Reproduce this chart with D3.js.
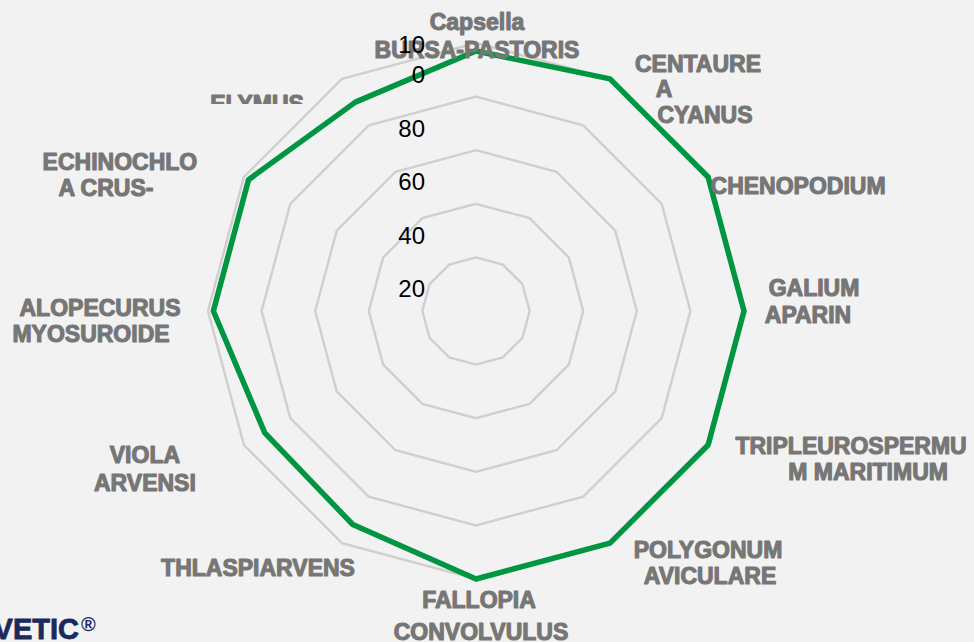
<!DOCTYPE html>
<html>
<head>
<meta charset="utf-8">
<script src="https://cdn.jsdelivr.net/npm/d3@7"></script>
<style>
  body { margin: 0; background: #f2f2f2; }
  svg { display: block; font-family: "Liberation Sans", Arial, sans-serif; }
  .cat { font-size: 23px; font-weight: bold; fill: #767676; stroke: #767676; stroke-width: 1.1px; stroke-linejoin: round; }
  .tick { font-size: 24px; fill: #000; }
</style>
</head>
<body>
<svg id="chart" width="974" height="642"></svg>
<script>

// species on the axes, clockwise from the top
const species = ["Capsella BURSA-PASTORIS", "CENTAUREA CYANUS", "CHENOPODIUM", "GALIUM APARIN",
  "TRIPLEUROSPERMUM MARITIMUM", "POLYGONUM AVICULARE", "FALLOPIA CONVOLVULUS", "THLASPIARVENS",
  "VIOLA ARVENSI", "ALOPECURUS MYOSUROIDE", "ECHINOCHLOA CRUS-", "ELYMUS"]

// the wrapped text as it shows on the chart
const speciesLines = [["Capsella", "BURSA-PASTORIS"], ["CENTAURE", "A", "CYANUS"], ["CHENOPODIUM"],
  ["GALIUM", "APARIN"], ["TRIPLEUROSPERMU", "M MARITIMUM"], ["POLYGONUM", "AVICULARE"],
  ["FALLOPIA", "CONVOLVULUS"], ["THLASPIARVENS"], ["VIOLA", "ARVENSI"],
  ["ALOPECURUS", "MYOSUROIDE"], ["ECHINOCHLO", "A CRUS-"], ["ELYMUS"]]

// efficacy (%)
const efficacy = [97, 100, 100, 100, 100, 100, 100, 92, 91, 98, 98, 90]

const gridLevels = [20, 40, 60, 80, 100]
const tickLabels = [["20"], ["40"], ["60"], ["80"], ["10", "0"]]

// label placement relative to the tip of each axis (per-line x, first line y, line height)
const labelLayout = [
  {dx: [1, 1], dy: -21, lh: 28},
  {dx: [88, 54, 95], dy: -15, lh: 25.5},
  {dx: [90], dy: 9, lh: 26},
  {dx: [70, 64], dy: -23, lh: 27},
  {dx: [143, 160], dy: 1, lh: 26},
  {dx: [98, 100], dy: 7, lh: 26},
  {dx: [3, 5], dy: 21, lh: 32},
  {dx: [-84], dy: 25, lh: 26},
  {dx: [-99, -99], dy: 10, lh: 28},
  {dx: [-108, -117], dy: -3, lh: 26},
  {dx: [-124, -138], dy: -15, lh: 26},
  {dx: [-85], dy: 25, lh: 26}
]

const svg = d3.select("#chart")
const cx = 476, cy = 311, outerR = 268

const r = d3.scaleLinear().domain([0, 100]).range([0, outerR])
const angle = d3.scaleLinear().domain([0, species.length]).range([0, 2 * Math.PI])

const g = svg.append("g").attr("transform", `translate(${cx},${cy})`)

const ring = (level) => d3.lineRadial()
  .angle((d, i) => angle(i))
  .radius(() => r(level))
  .curve(d3.curveLinearClosed)(species)

// grid
g.selectAll(".grid")
  .data(gridLevels)
  .enter().append("path")
    .attr("class", "grid")
    .attr("d", (d) => ring(d))
    .attr("fill", "none")
    .attr("stroke", "#cfcfcf")
    .attr("stroke-width", 2.4)

// series
const seriesLine = d3.lineRadial()
  .angle((d, i) => angle(i))
  .radius((d) => r(d))
  .curve(d3.curveLinearClosed)

g.append("path")
  .datum(efficacy)
  .attr("d", seriesLine)
  .attr("fill", "none")
  .attr("stroke", "#009540")
  .attr("stroke-width", 5.5)
  .attr("stroke-linejoin", "round")

function tip(i) {
  const a = angle(i)
  return [r(100) * Math.sin(a), -r(100) * Math.cos(a)]
}

// the ELYMUS label is cut off in the original
svg.append("clipPath").attr("id", "elymus-clip")
  .append("rect").attr("x", 0).attr("y", 0).attr("width", 974).attr("height", 104)

const labelsG = g.append("g")
const clippedG = svg.append("g").attr("clip-path", "url(#elymus-clip)")
  .append("g").attr("transform", `translate(${cx},${cy})`)

speciesLines.forEach((lines, i) => {
  const [tx, ty] = tip(i)
  const lay = labelLayout[i]
  const parent = i === species.length - 1 ? clippedG : labelsG
  parent.append("text")
    .attr("class", "cat")
    .attr("text-anchor", "middle")
    .attr("dominant-baseline", "central")
    .selectAll("tspan")
    .data(lines)
    .enter().append("tspan")
      .attr("x", (d, j) => tx + lay.dx[j])
      .attr("y", (d, j) => ty + lay.dy + j * lay.lh)
      .text((d) => d)
})

// value ticks
g.selectAll(".tick")
  .data(gridLevels)
  .enter().append("text")
    .attr("class", "tick")
    .attr("text-anchor", "end")
    .attr("dominant-baseline", "central")
    .each(function(level, k) {
      const lines = tickLabels[k]
      d3.select(this).selectAll("tspan")
        .data(lines)
        .enter().append("tspan")
          .attr("x", 425 - cx)
          .attr("y", (d, j) => -r(level) + 31 - (lines.length - 1 - j) * 30)
          .text((d) => d)
    })

// logo
svg.append("text")
  .attr("x", 79).attr("y", 639)
  .attr("text-anchor", "end")
  .attr("font-size", 29).attr("font-weight", "bold")
  .attr("fill", "#1b2a5c").attr("stroke", "#1b2a5c").attr("stroke-width", 0.8)
  .text("VETIC")
svg.append("text")
  .attr("x", 81).attr("y", 631)
  .attr("font-size", 20).attr("font-weight", "bold")
  .attr("fill", "#1b2a5c")
  .text("®")

</script>
</body>
</html>
